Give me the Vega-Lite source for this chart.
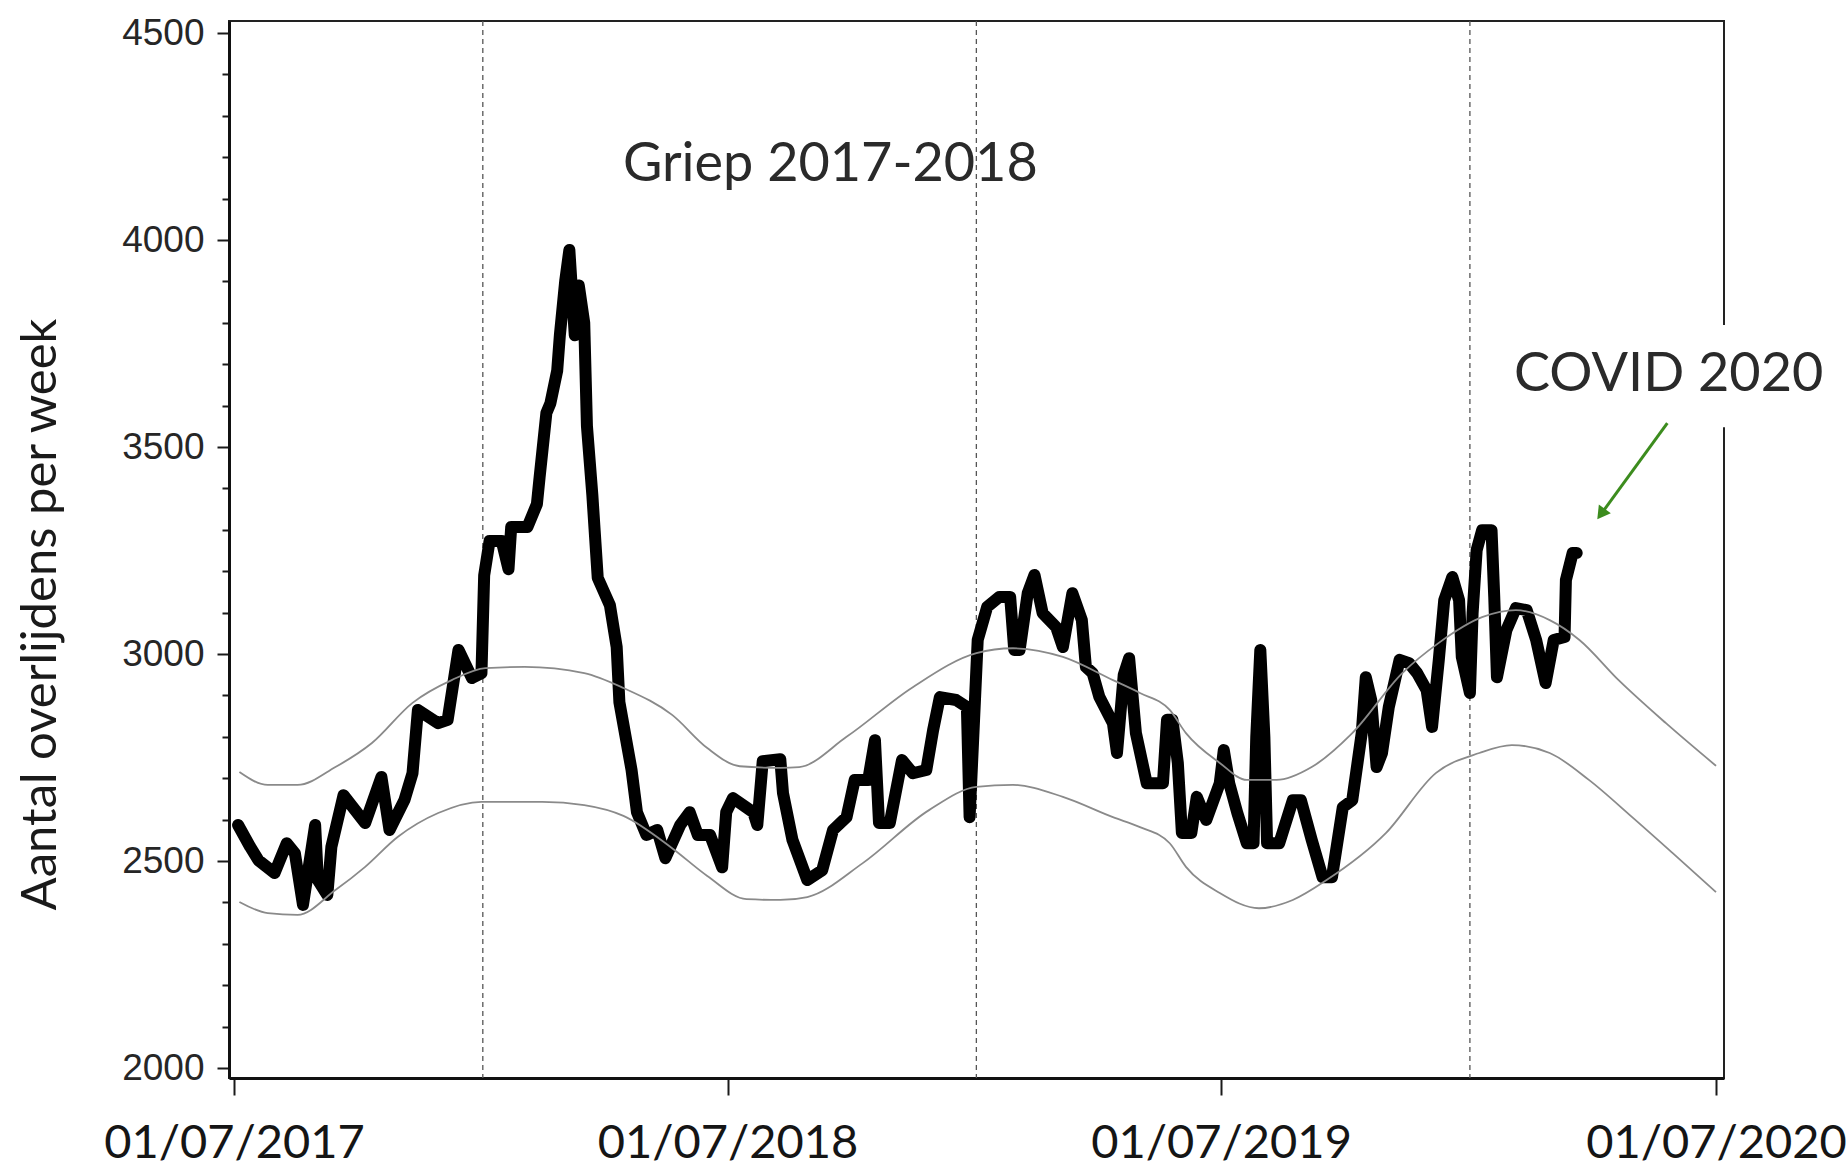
{
  "$schema": "https://vega.github.io/schema/vega-lite/v6.json",
  "width": 1495,
  "height": 1057,
  "autosize": {"type": "none"},
  "padding": {"left": 229, "top": 21, "right": 123, "bottom": 90},
  "background": "white",
  "config": {
    "view": {"stroke": "#222222", "strokeWidth": 2},
    "axis": {"grid": false}
  },
  "datasets": {
    "deaths": [
      {"date": "2017-07-04", "value": 2587}, {"date": "2017-07-13", "value": 2534}, {"date": "2017-07-19", "value": 2502},
      {"date": "2017-07-31", "value": 2471}, {"date": "2017-08-09", "value": 2543}, {"date": "2017-08-15", "value": 2519},
      {"date": "2017-08-21", "value": 2394}, {"date": "2017-08-30", "value": 2587}, {"date": "2017-09-01", "value": 2454},
      {"date": "2017-09-08", "value": 2418}, {"date": "2017-09-11", "value": 2534}, {"date": "2017-09-20", "value": 2659},
      {"date": "2017-10-06", "value": 2592}, {"date": "2017-10-18", "value": 2703}, {"date": "2017-10-24", "value": 2575},
      {"date": "2017-11-04", "value": 2647}, {"date": "2017-11-10", "value": 2712}, {"date": "2017-11-14", "value": 2865},
      {"date": "2017-11-29", "value": 2833}, {"date": "2017-12-06", "value": 2841}, {"date": "2017-12-14", "value": 3010},
      {"date": "2017-12-24", "value": 2942}, {"date": "2017-12-31", "value": 2954}, {"date": "2018-01-02", "value": 3190},
      {"date": "2018-01-06", "value": 3273}, {"date": "2018-01-15", "value": 3273}, {"date": "2018-01-20", "value": 3205},
      {"date": "2018-01-22", "value": 3307}, {"date": "2018-02-03", "value": 3307}, {"date": "2018-02-10", "value": 3362},
      {"date": "2018-02-12", "value": 3427}, {"date": "2018-02-17", "value": 3582}, {"date": "2018-02-20", "value": 3606},
      {"date": "2018-02-25", "value": 3684}, {"date": "2018-02-27", "value": 3771}, {"date": "2018-03-03", "value": 3903},
      {"date": "2018-03-06", "value": 3976}, {"date": "2018-03-10", "value": 3770}, {"date": "2018-03-13", "value": 3890},
      {"date": "2018-03-17", "value": 3800}, {"date": "2018-03-19", "value": 3551}, {"date": "2018-03-23", "value": 3384},
      {"date": "2018-03-27", "value": 3184}, {"date": "2018-04-05", "value": 3118}, {"date": "2018-04-10", "value": 3017},
      {"date": "2018-04-12", "value": 2884}, {"date": "2018-04-21", "value": 2720}, {"date": "2018-04-25", "value": 2618},
      {"date": "2018-05-02", "value": 2563}, {"date": "2018-05-10", "value": 2575}, {"date": "2018-05-16", "value": 2507},
      {"date": "2018-05-27", "value": 2587}, {"date": "2018-06-03", "value": 2618}, {"date": "2018-06-09", "value": 2563},
      {"date": "2018-06-18", "value": 2563}, {"date": "2018-06-27", "value": 2485}, {"date": "2018-06-30", "value": 2618},
      {"date": "2018-07-05", "value": 2652}, {"date": "2018-07-20", "value": 2618}, {"date": "2018-07-23", "value": 2587},
      {"date": "2018-07-27", "value": 2741}, {"date": "2018-08-09", "value": 2746}, {"date": "2018-08-11", "value": 2664},
      {"date": "2018-08-18", "value": 2551}, {"date": "2018-08-29", "value": 2454}, {"date": "2018-09-09", "value": 2478},
      {"date": "2018-09-17", "value": 2575}, {"date": "2018-09-27", "value": 2606}, {"date": "2018-10-03", "value": 2696},
      {"date": "2018-10-13", "value": 2696}, {"date": "2018-10-18", "value": 2792}, {"date": "2018-10-21", "value": 2592},
      {"date": "2018-10-29", "value": 2592}, {"date": "2018-11-07", "value": 2744}, {"date": "2018-11-15", "value": 2712},
      {"date": "2018-11-25", "value": 2720}, {"date": "2018-11-30", "value": 2816}, {"date": "2018-12-05", "value": 2896},
      {"date": "2018-12-17", "value": 2889}, {"date": "2018-12-25", "value": 2872}, {"date": "2018-12-27", "value": 2606},
      {"date": "2019-01-02", "value": 3034}, {"date": "2019-01-09", "value": 3114}, {"date": "2019-01-18", "value": 3138},
      {"date": "2019-01-26", "value": 3138}, {"date": "2019-01-29", "value": 3010}, {"date": "2019-02-02", "value": 3010},
      {"date": "2019-02-08", "value": 3147}, {"date": "2019-02-13", "value": 3191}, {"date": "2019-02-19", "value": 3099},
      {"date": "2019-03-01", "value": 3065}, {"date": "2019-03-06", "value": 3017}, {"date": "2019-03-13", "value": 3147},
      {"date": "2019-03-20", "value": 3082}, {"date": "2019-03-23", "value": 2969}, {"date": "2019-03-28", "value": 2954},
      {"date": "2019-04-02", "value": 2896}, {"date": "2019-04-12", "value": 2833}, {"date": "2019-04-15", "value": 2761},
      {"date": "2019-04-20", "value": 2950}, {"date": "2019-04-24", "value": 2990}, {"date": "2019-04-29", "value": 2809},
      {"date": "2019-05-07", "value": 2688}, {"date": "2019-05-19", "value": 2688}, {"date": "2019-05-22", "value": 2841},
      {"date": "2019-05-26", "value": 2841}, {"date": "2019-05-30", "value": 2737}, {"date": "2019-06-02", "value": 2568},
      {"date": "2019-06-09", "value": 2568}, {"date": "2019-06-13", "value": 2655}, {"date": "2019-06-20", "value": 2599},
      {"date": "2019-06-30", "value": 2688}, {"date": "2019-07-03", "value": 2768}, {"date": "2019-07-07", "value": 2688},
      {"date": "2019-07-13", "value": 2616}, {"date": "2019-07-20", "value": 2543}, {"date": "2019-07-25", "value": 2543},
      {"date": "2019-07-27", "value": 2800}, {"date": "2019-07-30", "value": 3010}, {"date": "2019-08-02", "value": 2800},
      {"date": "2019-08-04", "value": 2543}, {"date": "2019-08-13", "value": 2543}, {"date": "2019-08-23", "value": 2647},
      {"date": "2019-08-29", "value": 2647}, {"date": "2019-09-06", "value": 2551}, {"date": "2019-09-14", "value": 2461},
      {"date": "2019-09-21", "value": 2461}, {"date": "2019-09-29", "value": 2630}, {"date": "2019-10-06", "value": 2647},
      {"date": "2019-10-13", "value": 2809}, {"date": "2019-10-16", "value": 2944}, {"date": "2019-10-20", "value": 2889},
      {"date": "2019-10-24", "value": 2727}, {"date": "2019-10-28", "value": 2761}, {"date": "2019-11-02", "value": 2872},
      {"date": "2019-11-10", "value": 2986}, {"date": "2019-11-17", "value": 2978}, {"date": "2019-11-23", "value": 2954},
      {"date": "2019-11-30", "value": 2913}, {"date": "2019-12-04", "value": 2824}, {"date": "2019-12-09", "value": 2986},
      {"date": "2019-12-13", "value": 3130}, {"date": "2019-12-19", "value": 3186}, {"date": "2019-12-24", "value": 3130},
      {"date": "2019-12-26", "value": 2993}, {"date": "2020-01-01", "value": 2906}, {"date": "2020-01-03", "value": 3099},
      {"date": "2020-01-06", "value": 3251}, {"date": "2020-01-10", "value": 3299}, {"date": "2020-01-17", "value": 3299},
      {"date": "2020-01-19", "value": 3138}, {"date": "2020-01-21", "value": 2944}, {"date": "2020-01-28", "value": 3058},
      {"date": "2020-02-04", "value": 3111}, {"date": "2020-02-12", "value": 3106}, {"date": "2020-02-19", "value": 3034},
      {"date": "2020-02-26", "value": 2930}, {"date": "2020-03-03", "value": 3034}, {"date": "2020-03-11", "value": 3041},
      {"date": "2020-03-12", "value": 3179}, {"date": "2020-03-17", "value": 3244}, {"date": "2020-03-20", "value": 3244}
    ],
    "bands": [
      {"series": "boven", "date": "2017-07-05", "value": 2715}, {"series": "boven", "date": "2017-07-26", "value": 2684},
      {"series": "boven", "date": "2017-08-17", "value": 2684}, {"series": "boven", "date": "2017-09-14", "value": 2727},
      {"series": "boven", "date": "2017-10-11", "value": 2785}, {"series": "boven", "date": "2017-11-10", "value": 2882},
      {"series": "boven", "date": "2017-12-09", "value": 2937}, {"series": "boven", "date": "2018-01-03", "value": 2966},
      {"series": "boven", "date": "2018-02-01", "value": 2969}, {"series": "boven", "date": "2018-03-17", "value": 2954},
      {"series": "boven", "date": "2018-04-15", "value": 2918}, {"series": "boven", "date": "2018-05-21", "value": 2853},
      {"series": "boven", "date": "2018-06-16", "value": 2773}, {"series": "boven", "date": "2018-07-10", "value": 2729},
      {"series": "boven", "date": "2018-08-09", "value": 2725}, {"series": "boven", "date": "2018-08-23", "value": 2727},
      {"series": "boven", "date": "2018-09-27", "value": 2800}, {"series": "boven", "date": "2018-11-15", "value": 2920},
      {"series": "boven", "date": "2019-01-01", "value": 3002}, {"series": "boven", "date": "2019-01-28", "value": 3014},
      {"series": "boven", "date": "2019-03-06", "value": 2993}, {"series": "boven", "date": "2019-04-12", "value": 2937},
      {"series": "boven", "date": "2019-05-02", "value": 2906}, {"series": "boven", "date": "2019-05-24", "value": 2865},
      {"series": "boven", "date": "2019-06-05", "value": 2809}, {"series": "boven", "date": "2019-06-30", "value": 2737},
      {"series": "boven", "date": "2019-07-20", "value": 2696}, {"series": "boven", "date": "2019-08-11", "value": 2696},
      {"series": "boven", "date": "2019-09-06", "value": 2727}, {"series": "boven", "date": "2019-10-06", "value": 2809},
      {"series": "boven", "date": "2019-11-12", "value": 2954}, {"series": "boven", "date": "2019-12-09", "value": 3027},
      {"series": "boven", "date": "2020-01-10", "value": 3089}, {"series": "boven", "date": "2020-02-04", "value": 3106},
      {"series": "boven", "date": "2020-02-29", "value": 3082}, {"series": "boven", "date": "2020-03-22", "value": 3034},
      {"series": "boven", "date": "2020-04-20", "value": 2937}, {"series": "boven", "date": "2020-05-25", "value": 2833},
      {"series": "boven", "date": "2020-07-01", "value": 2730},
      {"series": "onder", "date": "2017-07-05", "value": 2401}, {"series": "onder", "date": "2017-07-26", "value": 2374},
      {"series": "onder", "date": "2017-08-17", "value": 2370}, {"series": "onder", "date": "2017-09-14", "value": 2430},
      {"series": "onder", "date": "2017-10-06", "value": 2486}, {"series": "onder", "date": "2017-10-30", "value": 2558},
      {"series": "onder", "date": "2017-11-29", "value": 2616}, {"series": "onder", "date": "2017-12-31", "value": 2643},
      {"series": "onder", "date": "2018-02-14", "value": 2643}, {"series": "onder", "date": "2018-03-17", "value": 2635},
      {"series": "onder", "date": "2018-04-15", "value": 2609}, {"series": "onder", "date": "2018-05-21", "value": 2531},
      {"series": "onder", "date": "2018-06-16", "value": 2464}, {"series": "onder", "date": "2018-07-15", "value": 2408},
      {"series": "onder", "date": "2018-08-09", "value": 2406}, {"series": "onder", "date": "2018-08-29", "value": 2413},
      {"series": "onder", "date": "2018-10-09", "value": 2495}, {"series": "onder", "date": "2018-11-27", "value": 2623},
      {"series": "onder", "date": "2019-01-01", "value": 2679}, {"series": "onder", "date": "2019-01-28", "value": 2684},
      {"series": "onder", "date": "2019-03-06", "value": 2655}, {"series": "onder", "date": "2019-04-12", "value": 2606},
      {"series": "onder", "date": "2019-05-02", "value": 2582}, {"series": "onder", "date": "2019-05-24", "value": 2543},
      {"series": "onder", "date": "2019-06-05", "value": 2486}, {"series": "onder", "date": "2019-06-30", "value": 2423},
      {"series": "onder", "date": "2019-07-29", "value": 2386}, {"series": "onder", "date": "2019-08-23", "value": 2406},
      {"series": "onder", "date": "2019-09-17", "value": 2454}, {"series": "onder", "date": "2019-10-31", "value": 2568},
      {"series": "onder", "date": "2019-12-07", "value": 2713}, {"series": "onder", "date": "2020-01-08", "value": 2761},
      {"series": "onder", "date": "2020-02-01", "value": 2780}, {"series": "onder", "date": "2020-02-29", "value": 2761},
      {"series": "onder", "date": "2020-03-29", "value": 2696}, {"series": "onder", "date": "2020-04-30", "value": 2606},
      {"series": "onder", "date": "2020-05-30", "value": 2519}, {"series": "onder", "date": "2020-07-01", "value": 2425}
    ],
    "yearmarks": [
      {"date": "2018-01-01"}, {"date": "2019-01-01"}, {"date": "2020-01-01"}
    ],
    "labels": [
      {"date": "2018-09-15", "value": 4181, "text": "Griep 2017-2018"},
      {"date": "2020-05-27", "value": 3674, "text": "COVID 2020"}
    ],
    "labelbox": [
      {"date": "2020-02-06", "date2": "2020-09-23", "value": 3548, "value2": 3795}
    ],
    "arrow": [
      {"date": "2020-05-26", "value": 3558, "date2": "2020-04-07", "value2": 3338}
    ]
  },
  "layer": [
    {
      "data": {"name": "yearmarks"},
      "mark": {"type": "rule", "color": "#555555", "strokeWidth": 1.3, "strokeDash": [5, 4]},
      "encoding": {
        "x": {"field": "date", "type": "temporal",
          "scale": {"type": "utc", "nice": false, "domain": [{"year": 2017, "month": 6, "date": 27, "hours": 7, "utc": true}, {"year": 2020, "month": 7, "date": 6, "hours": 22, "utc": true}]},
          "axis": {
            "values": [{"year": 2017, "month": 7, "date": 1, "utc": true}, {"year": 2018, "month": 7, "date": 1, "utc": true}, {"year": 2019, "month": 7, "date": 1, "utc": true}, {"year": 2020, "month": 7, "date": 1, "utc": true}],
            "format": "%d/%m/%Y",
            "title": null,
            "labelFont": "Lato",
            "labelFontSize": 47,
            "labelColor": "#151515",
            "labelPadding": 25,
            "labelLimit": 0,
            "labelFlush": false,
            "labelOverlap": false,
            "tickSize": 17,
            "tickWidth": 2,
            "tickColor": "#1a1a1a",
            "domainColor": "#111111",
            "domainWidth": 3
          }
        }
      }
    },
    {
      "data": {"name": "deaths"},
      "mark": {"type": "line", "color": "#000000", "strokeWidth": 12, "strokeJoin": "round", "strokeCap": "round"},
      "encoding": {
        "x": {"field": "date", "type": "temporal"},
        "y": {"field": "value", "type": "quantitative",
          "scale": {"domain": [1976, 4529], "nice": false, "zero": false},
          "axis": {
            "values": [2000, 2050, 2100, 2150, 2200, 2250, 2300, 2350, 2400, 2450, 2500, 2550, 2600, 2650, 2700, 2750, 2800, 2850, 2900, 2950, 3000, 3050, 3100, 3150, 3200, 3250, 3300, 3350, 3400, 3450, 3500, 3550, 3600, 3650, 3700, 3750, 3800, 3850, 3900, 3950, 4000, 4050, 4100, 4150, 4200, 4250, 4300, 4350, 4400, 4450, 4500],
            "format": "d",
            "labelExpr": "datum.value % 500 === 0 ? datum.label : ''",
            "labelFont": "Liberation Sans",
            "labelFontSize": 37,
            "labelColor": "#262626",
            "labelPadding": 13,
            "labelOverlap": false,
            "tickSize": {"condition": {"test": "datum.value % 500 === 0", "value": 12}, "value": 7},
            "tickWidth": 2,
            "tickColor": "#1a1a1a",
            "domainColor": "#111111",
            "domainWidth": 3,
            "title": "Aantal overlijdens per week",
            "titleFont": "Lato",
            "titleFontSize": 49,
            "titleFontWeight": "normal",
            "titleColor": "#1a1a1a",
            "titleAngle": -90,
            "titleX": -189,
            "titleY": 593,
            "titleAlign": "center",
            "titleBaseline": "middle"
          }
        }
      }
    },
    {
      "data": {"name": "bands"},
      "mark": {"type": "line", "color": "#8a8a8a", "strokeWidth": 1.8, "interpolate": "monotone"},
      "encoding": {
        "x": {"field": "date", "type": "temporal"},
        "y": {"field": "value", "type": "quantitative"},
        "detail": {"field": "series"}
      }
    },
    {
      "data": {"name": "labelbox"},
      "mark": {"type": "rect", "fill": "white", "stroke": null},
      "encoding": {
        "x": {"field": "date", "type": "temporal"},
        "x2": {"field": "date2"},
        "y": {"field": "value", "type": "quantitative"},
        "y2": {"field": "value2"}
      }
    },
    {
      "data": {"name": "labels"},
      "mark": {"type": "text", "font": "Lato", "fontSize": 54, "color": "#2a2a2a", "align": "center", "baseline": "middle"},
      "encoding": {
        "x": {"field": "date", "type": "temporal"},
        "y": {"field": "value", "type": "quantitative"},
        "text": {"field": "text"}
      }
    },
    {
      "data": {"name": "arrow"},
      "mark": {"type": "rule", "color": "#3c8c1e", "strokeWidth": 3},
      "encoding": {
        "x": {"field": "date", "type": "temporal"},
        "y": {"field": "value", "type": "quantitative"},
        "x2": {"field": "date2"},
        "y2": {"field": "value2"}
      }
    },
    {
      "data": {"name": "arrow"},
      "mark": {"type": "point", "shape": "triangle-up", "filled": true, "color": "#3c8c1e", "size": 220, "angle": 216, "opacity": 1},
      "encoding": {
        "x": {"field": "date2", "type": "temporal"},
        "y": {"field": "value2", "type": "quantitative"}
      }
    }
  ]
}
